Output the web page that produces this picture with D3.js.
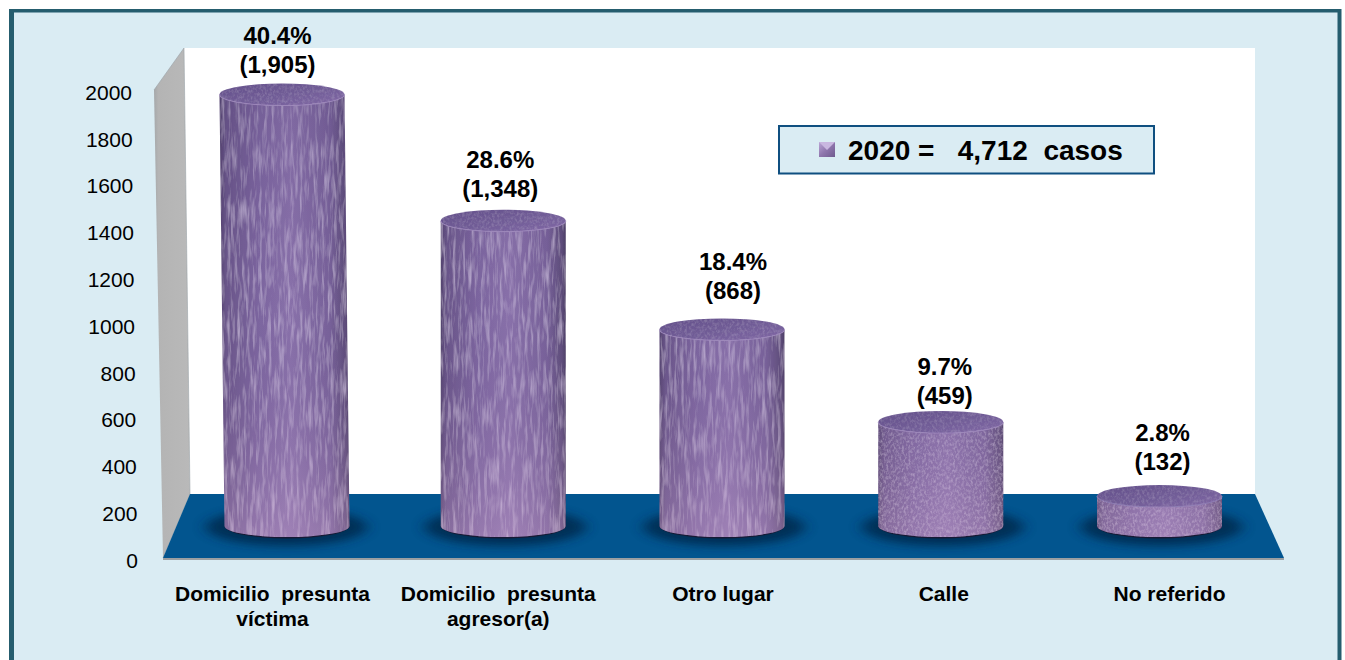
<!DOCTYPE html>
<html><head><meta charset="utf-8">
<script src="https://cdn.jsdelivr.net/npm/d3@7/dist/d3.min.js"></script>
<style>
html,body{margin:0;padding:0;background:#fff;overflow:hidden}
svg{display:block}
text{font-family:"Liberation Sans",Arial,sans-serif;fill:#000;white-space:pre}
</style></head><body>
<svg id="c" width="1345" height="660"></svg>
<script>
// ---- data ----
const categories = [["Domicilio  presunta","víctima"],["Domicilio  presunta","agresor(a)"],["Otro lugar"],["Calle"],["No referido"]];
const values = [1905,1348,868,459,132];
const percents = ["40.4%","28.6%","18.4%","9.7%","2.8%"];
const counts = ["(1,905)","(1,348)","(868)","(459)","(132)"];
const yTicks = [0,200,400,600,800,1000,1200,1400,1600,1800,2000];
const legendText = "2020 =   4,712  casos";
// ---- hand placement of labels relative to each bar (layout, not data) ----
const labelDx = [-7,-3,11,4,3];
const labelDy = [0,-2,-8,4,-4];
const catDx = [-12,-5,1,3,10];

const W=1345,H=660;
const svg=d3.select("#c");
const defs=svg.append("defs");

// gradients
function grad(id,attrs,stops){
  const g=defs.append("linearGradient").attr("id",id);
  Object.entries(attrs).forEach(([k,v])=>g.attr(k,v));
  stops.forEach(s=>g.append("stop").attr("offset",s[0]).attr("stop-color",s[1]).attr("stop-opacity",s[2]===undefined?1:s[2]));
}
grad("side",{x1:0,x2:1,y1:0,y2:0},[[0,"#54446f"],[.05,"#6a568a"],[.3,"#7d66a0"],[.55,"#8a72ab"],[.85,"#78629a"],[.97,"#5e4d7a"],[1,"#4d3f66"]]);
grad("vshade",{gradientUnits:"userSpaceOnUse",x1:0,x2:0,y1:85,y2:537},[[0,"#3f2f66",.16],[.5,"#5a4380",.03],[1,"#d0a5cf",.3]]);
grad("topg",{x1:0,x2:1,y1:0,y2:1},[[0,"#65518b"],[.5,"#705c96"],[1,"#8169a6"]]);
grad("wall",{x1:0,x2:1,y1:0,y2:0},[[0,"#a5a8aa"],[.12,"#b4b4b4"],[1,"#b9b9b9"]]);
grad("legm",{x1:0,x2:1,y1:0,y2:1},[[0,"#bba6d6"],[.5,"#8f76ad"],[1,"#6f5a8e"]]);

// texture filter: fine streaky noise over the body
const mk=(id,fx,fy,seed,alpha,cut)=>{
  const f=defs.append("filter").attr("id",id).attr("x","0").attr("y","0").attr("width","1").attr("height","1");
  f.append("feTurbulence").attr("type","fractalNoise").attr("baseFrequency",fx+" "+fy).attr("numOctaves",3).attr("seed",seed).attr("result","n");
  f.append("feColorMatrix").attr("in","n").attr("type","matrix")
   .attr("values","0 0 0 0 .76  0 0 0 0 .66  0 0 0 0 .88  "+alpha+" 0 0 0 "+(-alpha*cut)).attr("result","t");
  f.append("feComposite").attr("in","t").attr("in2","SourceAlpha").attr("operator","in").attr("result","tc");
  const m=f.append("feMerge");
  m.append("feMergeNode").attr("in","SourceGraphic");
  m.append("feMergeNode").attr("in","tc");
};
mk("streak",.32,.035,4,1.1,.45);
mk("speck",.45,.3,9,.8,.42);
mk("speckTop",.4,.3,7,.35,.42);
defs.append("filter").attr("id","blur").attr("x","-30%").attr("y","-60%").attr("width","160%").attr("height","220%")
  .append("feGaussianBlur").attr("stdDeviation","7 4");

// frame
svg.append("rect").attr("x",9).attr("y",9).attr("width",1332.5).attr("height",660).attr("fill","#255d6e");
svg.append("rect").attr("x",14).attr("y",12.5).attr("width",1323.5).attr("height",660).attr("fill","#daecf3");

// walls and floor
const backL=184,backR=1255,backT=48,floorT=494,frontB=558;
svg.append("rect").attr("x",backL).attr("y",backT).attr("width",backR-backL).attr("height",floorT-backT).attr("fill","#fff");
svg.append("path").attr("d",d3.line()([[154,90],[184,48],[190,494],[163,558]])).attr("fill","url(#wall)").attr("stroke","#9aa3a8").attr("stroke-width",.6);
svg.append("path").attr("d",d3.line()([[190,494],[1255,494],[1284,558],[163,558]])+"Z").attr("fill","#02558f");
svg.append("line").attr("x1",163).attr("x2",1284).attr("y1",559).attr("y2",559).attr("stroke","#9b9fa2").attr("stroke-width",2);

// y axis
const yAxisScale=d3.scaleLinear().domain([0,2000]).range([560,92]);
const ax=svg.append("g").attr("transform","translate(138,0)")
  .call(d3.axisLeft(yAxisScale).tickValues(yTicks).tickSize(0).tickPadding(0).tickFormat(d3.format("d")));
ax.select(".domain").remove();
const axSlant=d3.scaleLinear().domain([0,2000]).range([0,-6]);
ax.selectAll("text").style("font-size","21px").style("font-family","'Liberation Sans',Arial,sans-serif").attr("fill","#000")
  .attr("dy",".35em").attr("x",d=>axSlant(d));

// cylinders
const cx=d3.scalePoint().domain(d3.range(values.length)).range([284.5,1159.5]);
const yTop=d3.scaleLinear().domain([0,2000]).range([526,73]);
const rx=62.5, ry=11, baseY=yTop(0);
const lean=d3.scaleLinear().domain([1348,1905]).range([0,5]).clamp(true);

const bars=svg.append("g").selectAll("g").data(values).join("g");
bars.append("ellipse").attr("cx",(d,i)=>cx(i)+2).attr("cy",baseY+1).attr("rx",rx+18).attr("ry",ry+8)
  .attr("fill","#04274a").attr("opacity",.8).attr("filter","url(#blur)");
const bodyPath=(d,i)=>{
  const l=lean(d)/2, c=cx(i);
  const t=yTop(d);
  return `M${c-rx-l},${t}L${c-rx+l},${baseY}A${rx},${ry} 0 0 0 ${c+rx+l},${baseY}L${c+rx-l},${t}A${rx},${ry} 0 0 1 ${c-rx-l},${t}Z`;
};
// dark rim under the base
bars.append("path").attr("d",(d,i)=>{const l=lean(d)/2,c=cx(i);return `M${c-rx+l},${baseY}A${rx},${ry+1.5} 0 0 0 ${c+rx+l},${baseY}Z`;}).attr("fill","#171a35");
bars.append("path").attr("d",bodyPath).attr("fill","url(#side)").attr("filter",d=>d>600?"url(#streak)":"url(#speck)");
bars.append("path").attr("d",bodyPath).attr("fill","url(#vshade)");
bars.append("ellipse").attr("cx",(d,i)=>cx(i)-lean(d)/2).attr("cy",d=>yTop(d)).attr("rx",rx).attr("ry",ry)
  .attr("fill","url(#topg)").attr("filter","url(#speckTop)");
bars.append("path").attr("d",(d,i)=>{const c=cx(i)-lean(d)/2,t=yTop(d);return `M${c-rx},${t}A${rx},${ry} 0 0 0 ${c+rx},${t}`;})
  .attr("fill","none").attr("stroke","#9d86bb").attr("stroke-width",1.2).attr("opacity",.7);

// value labels
const labels=svg.append("g").selectAll("g").data(values).join("g")
  .attr("transform",(d,i)=>`translate(${cx(i)+labelDx[i]},${yTop(d)+labelDy[i]})`)
  .attr("text-anchor","middle").style("font-weight","bold").style("font-size","24px");
labels.append("text").attr("y",-51).text((d,i)=>percents[i]);
labels.append("text").attr("y",-22).text((d,i)=>counts[i]);

// category labels
const cats=svg.append("g").selectAll("text").data(categories).join("text")
  .attr("text-anchor","middle").style("font-weight","bold").style("font-size","21px")
  .attr("transform",(d,i)=>`translate(${cx(i)+catDx[i]},601)`);
cats.selectAll("tspan").data(d=>d).join("tspan").attr("x",0).attr("y",(d,i)=>i*25).text(d=>d);

// legend
svg.append("rect").attr("x",779).attr("y",126).attr("width",375).attr("height",47.5).attr("fill","#daecf3").attr("stroke","#0f4f80").attr("stroke-width",2);
svg.append("rect").attr("x",819).attr("y",142).attr("width",16).attr("height",15).attr("fill","url(#legm)");
svg.append("path").attr("d",d3.line()([[819,142],[835,142],[827,150]])+"Z").attr("fill","#c9b7e0");
svg.append("text").attr("x",848).attr("y",160).style("font-weight","bold").style("font-size","28px").text(legendText);
</script>
</body></html>
